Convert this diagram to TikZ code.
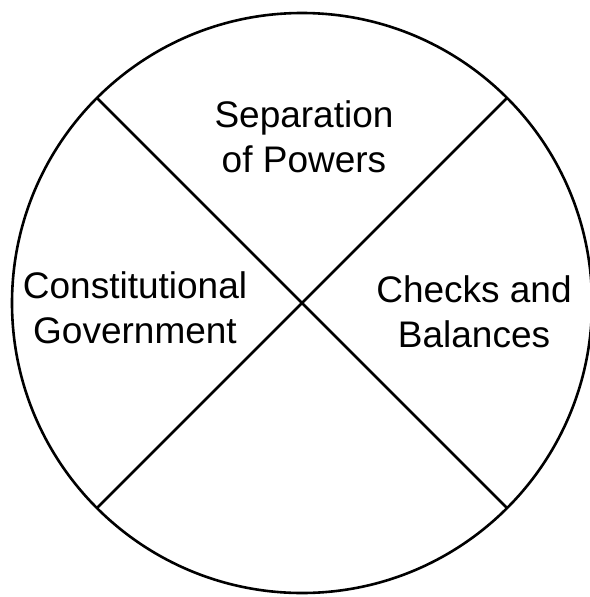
\documentclass[tikz,border=0pt]{standalone}
\usepackage{fontspec}
\setmainfont{Liberation Sans}
\begin{document}
\begin{tikzpicture}[x=1pt, y=-1pt]
        % Define styles
        \tikzset{wheel/.style={circle, draw=black, line width=2.6pt, minimum size=580pt, inner sep=0pt, outer sep=0pt}}
        \tikzset{divider/.style={draw=black, line width=2.6pt}}
        \tikzset{part/.style={align=center, font=\fontsize{37}{45}\selectfont, inner sep=0pt, anchor=base}}
        
        \useasboundingbox (0,0) rectangle (589,597);
        
        % Circle
        \node [wheel] (wheel) at (302,303) {};
        
        % Dividers
        \draw [divider] (wheel.135) -- (wheel.-45);
        \draw [divider] (wheel.45) -- (wheel.-135);
        
        % Labels
        \node [part] (separation) at (304,172) {Separation\\of Powers};
        \node [part] (constitution) at (135,343) {Constitutional\\Government};
        \node [part] (checks) at (474,347) {Checks and\\Balances};
    \end{tikzpicture}
\end{document}
